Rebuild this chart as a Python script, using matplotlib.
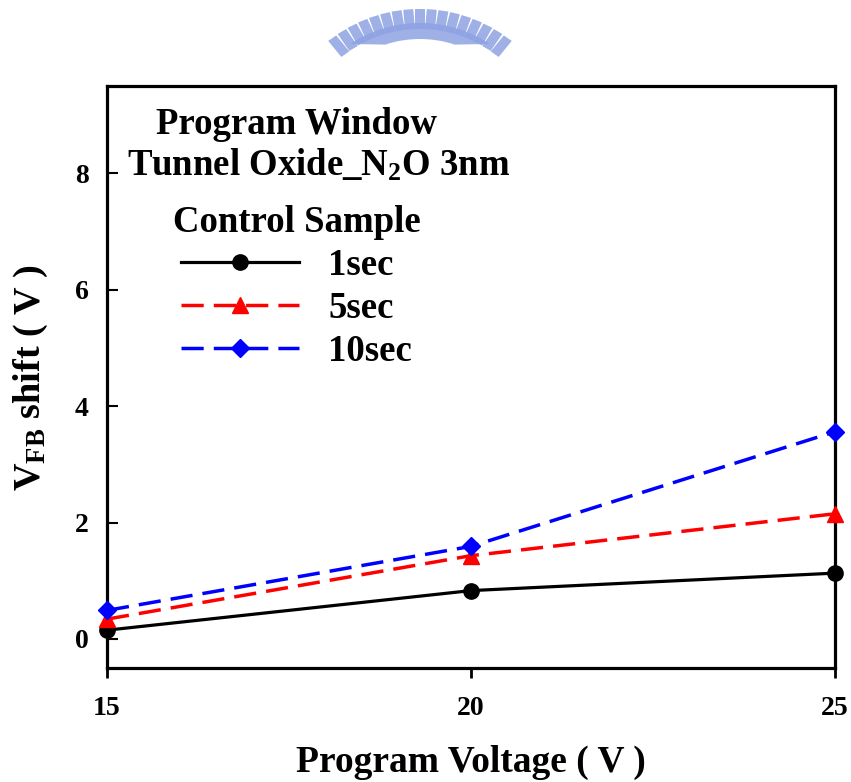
import matplotlib
matplotlib.use("Agg")
import matplotlib.pyplot as plt
import numpy as np
from matplotlib.patches import Rectangle, Polygon

plt.rcParams['font.family'] = ['Liberation Serif', 'DejaVu Serif']
plt.rcParams['font.weight'] = 'bold'
plt.rcParams['mathtext.fontset'] = 'custom'
plt.rcParams['mathtext.rm'] = 'Liberation Serif:bold'
plt.rcParams['mathtext.it'] = 'Liberation Serif:bold'
plt.rcParams['mathtext.bf'] = 'Liberation Serif:bold'

voltage = [15, 20, 25]
shift_1s = [0.15, 0.83, 1.13]
shift_5s = [0.34, 1.43, 2.15]
shift_10s = [0.49, 1.59, 3.56]
series_labels = ['1sec', '5sec', '10sec']
xticks = [15, 20, 25]
yticks = [0, 2, 4, 6, 8]

W, H = 851, 782
fig = plt.figure(figsize=(W / 100, H / 100), dpi=100)
ax = fig.add_axes([107 / W, 1 - 668 / H, (835 - 107) / W, (668 - 86) / H])

ax.plot(voltage, shift_1s, color='black', lw=2.3, marker='o', ms=11,
        label=series_labels[0], clip_on=False, zorder=3)
ax.plot(voltage, shift_5s, color='red', lw=2.5, marker='^', ms=11,
        dashes=(6.4, 2.9), label=series_labels[1], clip_on=False, zorder=3)
ax.plot(voltage, shift_10s, color='blue', lw=2.5, marker='D', ms=9.5,
        dashes=(6.4, 2.9), label=series_labels[2], clip_on=False, zorder=3)

ax.set_xlim(15, 25)
ax.set_ylim(-0.5, 9.5)
ax.set_xticks(xticks)
ax.set_yticks(yticks)
ax.tick_params(axis='x', direction='out', length=7, width=2, labelsize=20, pad=13)
ax.tick_params(axis='y', direction='in', length=8, width=1.5, labelsize=20, pad=13)
for lab in ax.get_xticklabels() + ax.get_yticklabels():
    lab.set_fontweight('bold')
for sp in ax.spines.values():
    sp.set_linewidth(2.3)

ax.set_xlabel('Program Voltage ( V )', fontsize=27, fontweight='bold', labelpad=17)
ax.set_ylabel(r'V$_{\mathrm{FB}}$ shift ( V )', fontsize=27.5, fontweight='bold', labelpad=18)

fig.text(296 / W, 1 - 124 / H, 'Program Window', fontsize=26.5, fontweight='bold',
         ha='center', va='center')
fig.text(319 / W, 1 - 165 / H, r'Tunnel Oxide_N$_2$O 3nm', fontsize=26.5,
         fontweight='bold', ha='center', va='center')

leg = ax.legend(loc='upper left', bbox_to_anchor=(51 / (835 - 107), 1 - 104 / (668 - 86)),
                frameon=False, fontsize=26.5, title='Control Sample',
                title_fontproperties={'size': 26.5, 'weight': 'bold'},
                handlelength=3.2, handletextpad=0.8, labelspacing=0.22,
                numpoints=1, borderaxespad=0)
for t in leg.get_texts():
    t.set_fontweight('bold')

# faded logo arc at the top
cx, cy, r = 420, 150, 135
wm = '#8ea2e3'
for ang in np.linspace(-37, 37, 17):
    a = np.radians(ang)
    x = cx + r * np.sin(a)
    y = cy - r * np.cos(a)
    rect = Rectangle((x / W - 5 / W, 1 - (y + 14) / H), 10 / W, 20 / H,
                     transform=fig.transFigure, color=wm, alpha=0.85,
                     angle=-ang, rotation_point='center', lw=0)
    fig.patches.append(rect)
arc_out = [(cx + (r - 8) * np.sin(np.radians(t)), cy - (r - 8) * np.cos(np.radians(t)))
           for t in np.linspace(-42, 42, 40)]
arc_in = [(cx + (r - 24) * np.sin(np.radians(t)), cy - (r - 24) * np.cos(np.radians(t)))
          for t in np.linspace(42, -42, 40)]
pts = [(px / W, 1 - py / H) for px, py in arc_out + arc_in if py < 45]
band = Polygon(pts, closed=True, transform=fig.transFigure, color=wm, alpha=0.85, lw=0)
fig.patches.append(band)

fig.savefig('out.png', dpi=100)
